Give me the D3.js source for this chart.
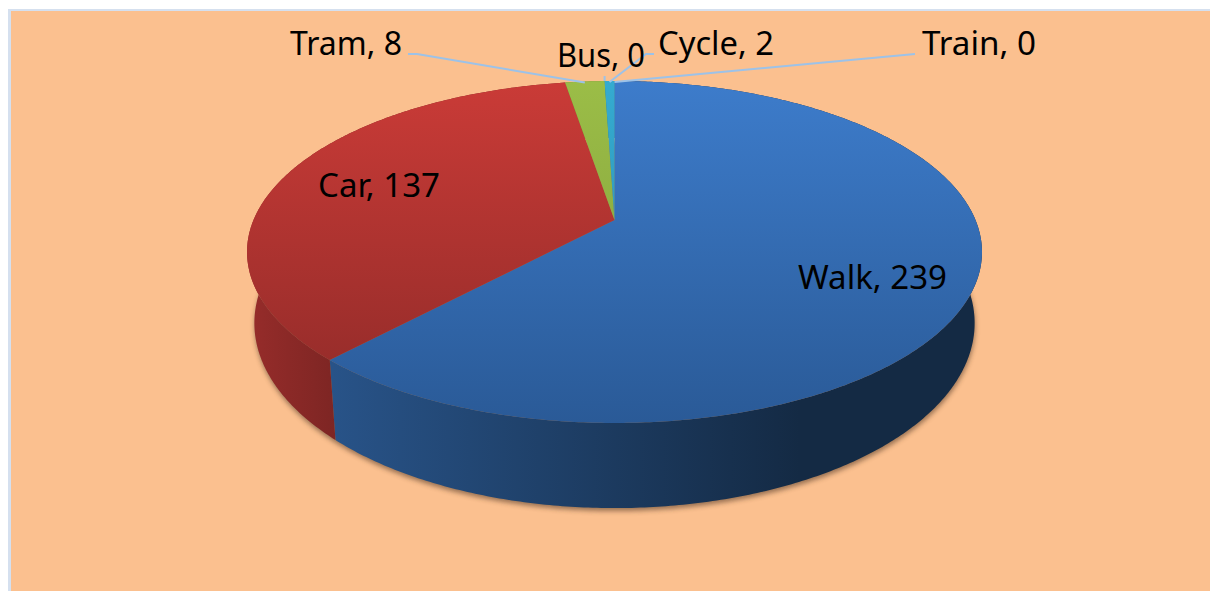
<!DOCTYPE html>
<html><head><meta charset="utf-8">
<script src="https://cdnjs.cloudflare.com/ajax/libs/d3/7.8.5/d3.min.js"></script>
<style>html,body{margin:0;padding:0;background:#fff;overflow:hidden}svg{display:block}
text{font-family:"Comic Sans MS","Noto Sans",sans-serif;font-size:33px;fill:#000}</style>
</head><body><svg id="c" width="1210" height="591"></svg>
<script>
const categories=["Walk","Car","Tram","Bus","Cycle","Train"];
const values=[239,137,8,0,2,0];
const faceTop=["#3d7ccb","#ca3b37","#9bbd47","#9bbd47","#35abd0","#35abd0"];
const faceBottom=["#2a5a97","#8e2a28","#7f9c3a","#7f9c3a","#2a8aa8","#2a8aa8"];
const wallLeft=["#285388","#962c2a","#6d8632","#6d8632","#257a95","#257a95"];
const wallRight=["#142a44","#7c2523","#6d8632","#6d8632","#257a95","#257a95"];
const labelX=[798,318,290,557,658,922];
const labelY=[289,197,55,67,55,55];
const labelWidth=[149,122,112,88,116,114];
const leaderElbow=[null,null,[417,54],null,[646,54],[915,54]];
const leaderStart=[null,null,[408,54],null,[654,54],[915,54]];

const svg=d3.select("#c");
const defs=svg.append("defs");
const cx=614.5,cy=220,a=361,b=165,k=0.187;
const lowX=0.98,lowY=1.082,drop=68.5;
// perspective projection of the unit disc; level 0 = top face, 1 = bottom rim
function proj(t,level){
  const u=Math.sin(t),v=Math.cos(t),w=1+k*v;
  const sx=level?lowX:1,sy=level?lowY:1,dy=level?drop:0;
  return [cx+a*sx*u/w,cy+dy-b*sy*v/w];
}
const arcs=d3.pie().sort(null).value(d=>d)(values);
const line=d3.line();
const samples=(s,e)=>{const n=Math.max(2,Math.ceil((e-s)/0.01));return d3.range(n+1).map(i=>s+(e-s)*i/n);};

svg.append("rect").attr("x",8).attr("y",9).attr("width",1202).attr("height",582).attr("fill","#d5e0ef");
svg.append("rect").attr("x",11).attr("y",11).attr("width",1199).attr("height",580).attr("fill","#fbc08f");

const blur=defs.append("filter").attr("id","sh").attr("x","-10%").attr("y","-10%").attr("width","120%").attr("height","120%");
blur.append("feGaussianBlur").attr("stdDeviation",2.5);
const full=samples(0,2*Math.PI);
svg.append("path").attr("d",line(full.map(t=>{const p=proj(t,1);return [p[0]+0.5,p[1]+3];}))+"Z")
  .attr("fill","#4a3020").attr("opacity",0.55).attr("filter","url(#sh)");

arcs.forEach((d,i)=>{
  const w=defs.append("linearGradient").attr("id","w"+i).attr("gradientUnits","userSpaceOnUse")
    .attr("x1",i==1?250:332).attr("x2",i==1?340:800).attr("y1",0).attr("y2",0);
  w.append("stop").attr("offset",0).attr("stop-color",wallLeft[i]);
  w.append("stop").attr("offset",1).attr("stop-color",wallRight[i]);
  const f=defs.append("linearGradient").attr("id","f"+i).attr("gradientUnits","userSpaceOnUse")
    .attr("x1",0).attr("x2",0).attr("y1",81).attr("y2",423);
  f.append("stop").attr("offset",0).attr("stop-color",faceTop[i]);
  f.append("stop").attr("offset",1).attr("stop-color",faceBottom[i]);
});
// side walls, drawn first so the top faces cover their hidden part
arcs.forEach((d,i)=>{
  if(d.endAngle<=d.startAngle) return;
  const ts=samples(d.startAngle,d.endAngle);
  const pts=ts.map(t=>proj(t,0)).concat(ts.slice().reverse().map(t=>proj(t,1)));
  svg.append("path").attr("d",line(pts)+"Z").attr("fill",`url(#w${i})`);
});
arcs.forEach((d,i)=>{
  if(d.endAngle<=d.startAngle) return;
  const pts=[[cx,cy]].concat(samples(d.startAngle,d.endAngle).map(t=>proj(t,0)));
  svg.append("path").attr("d",line(pts)+"Z").attr("fill",`url(#f${i})`);
});
// leader lines run from the label to the slice's middle on the rim
arcs.forEach((d,i)=>{
  if(!leaderStart[i]) return;
  const m=(d.startAngle+d.endAngle)/2,e=proj(m,0);
  svg.append("path").attr("d",line([leaderStart[i],leaderElbow[i],[e[0],e[1]+1]]))
    .attr("fill","none").attr("stroke","#9cc2e8").attr("stroke-width",2);
});
const busX=proj(arcs[3].startAngle,0)[0];
svg.append("path").attr("d",line([[busX,76],[busX,81]]))
  .attr("fill","none").attr("stroke","#9cc2e8").attr("stroke-width",2);
categories.forEach((c,i)=>{
  svg.append("text").attr("x",labelX[i]).attr("y",labelY[i])
    .attr("textLength",labelWidth[i]).attr("lengthAdjust","spacingAndGlyphs")
    .text(`${c}, ${values[i]}`);
});
</script></body></html>
